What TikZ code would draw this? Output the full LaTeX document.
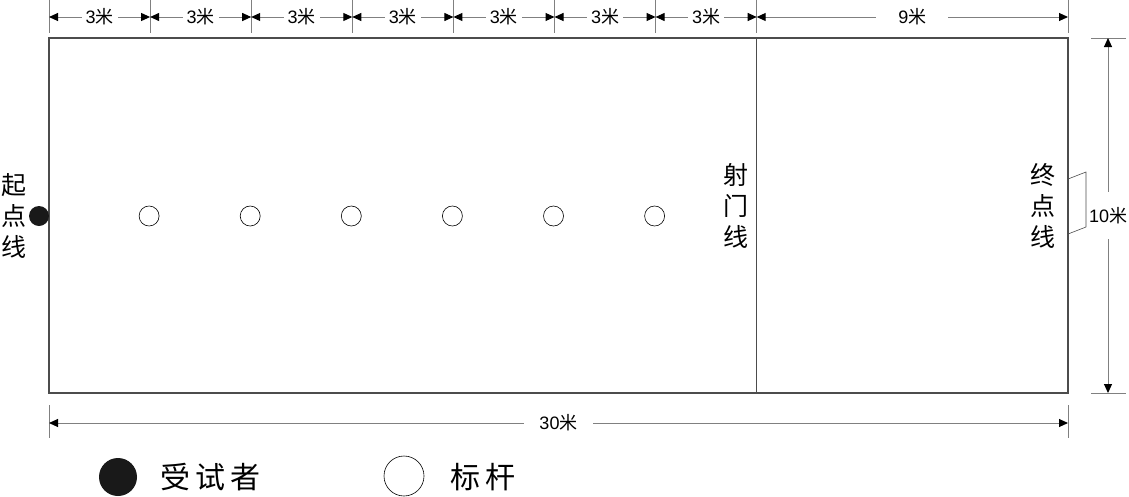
\documentclass[tikz,border=0pt]{standalone}
\usepackage{fontspec}
\setmainfont{Liberation Sans}
\newfontfamily\cjk{Noto Sans CJK SC}
\usetikzlibrary{arrows.meta}

\definecolor{dimgray}{gray}{0.5}
\definecolor{fieldgray}{gray}{0.3}

\tikzset{
  dimtick/.style={draw=dimgray, line width=1pt},
  dimline/.style={draw=dimgray, line width=1pt,
    {Triangle[length=9pt,width=8pt,black]}-{Triangle[length=9pt,width=8pt,black]}},
  dimtext/.style={fill=white, inner xsep=4pt, inner ysep=1pt, font=\fontsize{18}{20}\selectfont},
  fieldline/.style={draw=fieldgray, line width=1.1pt},
  pole/.style={circle, draw=black, line width=0.6pt, minimum size=20pt, inner sep=0pt},
  runner/.style={circle, fill=black!90, minimum size=20pt, inner sep=0pt},
  linelabel/.style={align=center, inner sep=0pt, font=\cjk\fontsize{25}{31}\selectfont},
  legendtext/.style={anchor=west, inner sep=0pt, font=\cjk\fontsize{30}{36}\selectfont},
}

\begin{document}
\begin{tikzpicture}[x=1pt, y=-1pt]
  \useasboundingbox (0,0) rectangle (1129,496);

  % top dimensions, 3 m each, then 9 m
  \foreach \i in {0,...,7}
    \coordinate (t\i) at ({49+101.1*\i},17);
  \coordinate (t8) at (1068,17);
  \foreach \i in {0,...,8}
    \draw[dimtick] (t\i) ++(0,-17) -- ++(0,33);
  \foreach \i [evaluate=\i as \j using int(\i+1)] in {0,...,6}
    \draw[dimline] (t\i) -- node[dimtext] {3\cjk 米} (t\j);
  \draw[dimline] (t7) -- node[dimtext, inner xsep=22pt] {9\cjk 米} (t8);

  % field
  \coordinate (nw) at (49,38);
  \coordinate (se) at (1068,393);
  \draw[fieldline] (nw) rectangle (se);
  \coordinate (goaltop) at (t7 |- nw);
  \coordinate (goalbot) at (t7 |- se);
  \draw[fieldline] (goaltop) -- (goalbot);

  % runner and poles
  \node[runner] (start) at (39,216) {};
  \foreach \i in {1,...,6}
    \node[pole] (pole\i) at ({49+101.1*\i-1},216) {};

  % line names
  \node[linelabel] (startlbl) at (14,216) {起\\点\\线};
  \node[linelabel] (shootlbl) at (736,206) {射\\门\\线};
  \node[linelabel] (finishlbl) at (1043,206) {终\\点\\线};

  % bracket to the finish line
  \coordinate (br0) at (1068,179);
  \coordinate (br1) at (1086,172);
  \coordinate (br2) at (1086,227);
  \coordinate (br3) at (1068,234);
  \draw[draw=fieldgray, line width=0.6pt] (br0) -- (br1) -- (br2) -- (br3);

  % width, 10 m
  \coordinate (r0) at (1108,38);
  \coordinate (r1) at (1108,393);
  \draw[dimtick] (r0) ++(-17,0) -- ++(35,0);
  \draw[dimtick] (r1) ++(-17,0) -- ++(35,0);
  \draw[dimline] (r0) -- node[dimtext, inner xsep=1pt, inner ysep=15pt] {10\cjk 米} (r1);

  % length, 30 m
  \coordinate (b0) at (49,423);
  \coordinate (b1) at (1068,423);
  \draw[dimtick] (b0) ++(0,-18) -- ++(0,33);
  \draw[dimtick] (b1) ++(0,-18) -- ++(0,33);
  \draw[dimline] (b0) -- node[dimtext, inner xsep=15pt] {30\cjk 米} (b1);

  % legend
  \node[runner, minimum size=38pt] (keyrunner) at (118,477) {};
  \node[legendtext] (keyrunnertxt) at (160,477) {受\kern5pt 试\kern5pt 者};
  \node[pole, minimum size=40pt] (keypole) at (404,476) {};
  \node[legendtext] (keypoletxt) at (450,477) {标\kern5pt 杆};
\end{tikzpicture}
\end{document}
